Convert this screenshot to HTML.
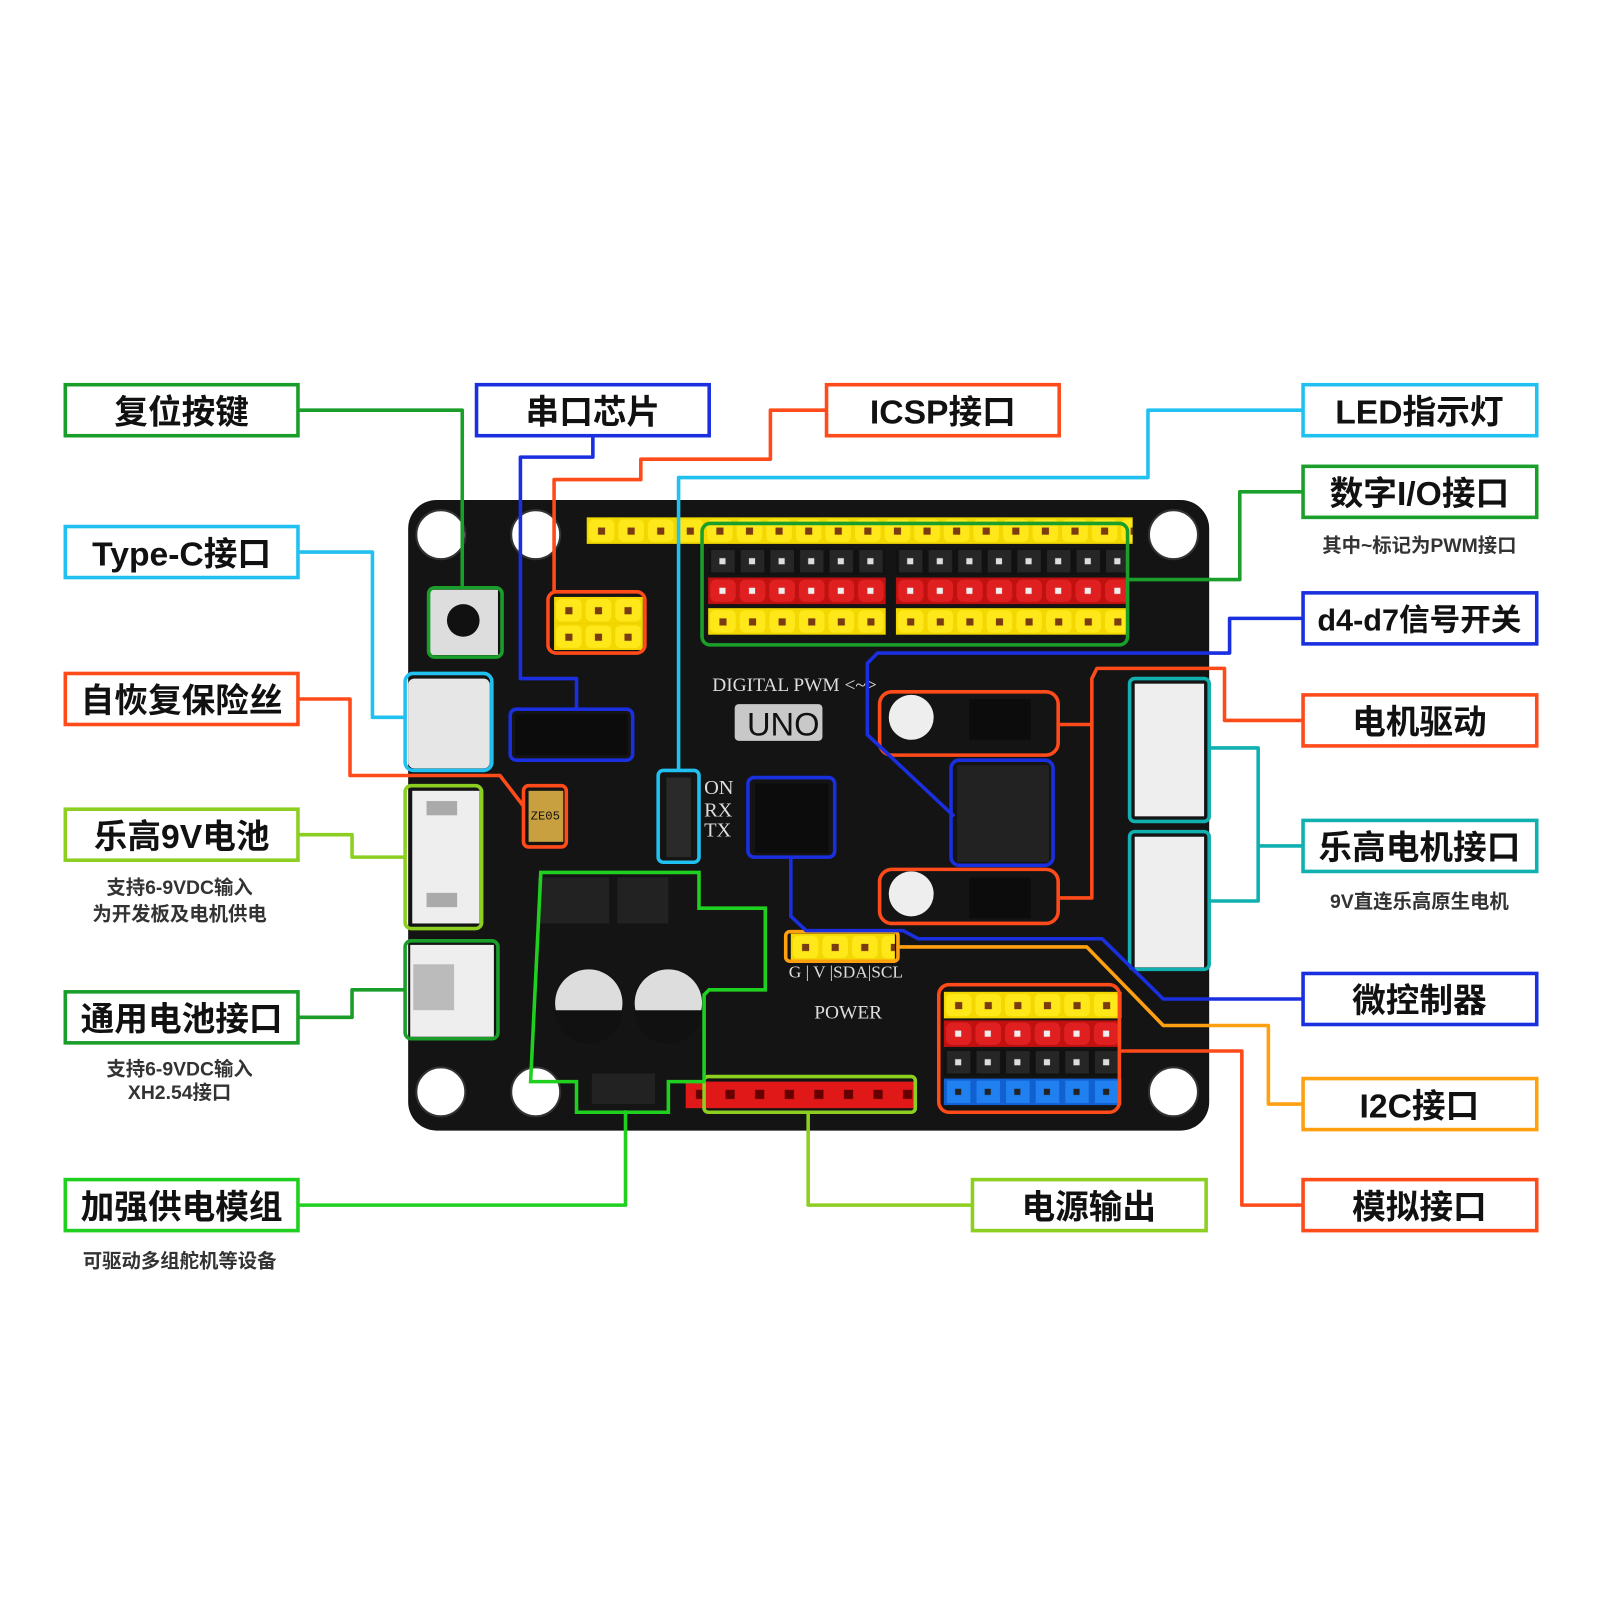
<!DOCTYPE html>
<html><head><meta charset="utf-8"><style>
html,body{margin:0;padding:0;background:#fff}
svg{display:block}
.lb{font-family:"Liberation Sans","Noto Sans CJK SC",sans-serif;font-weight:bold;font-size:33px;fill:#111}
.sb{font-family:"Liberation Sans","Noto Sans CJK SC",sans-serif;font-weight:bold;font-size:19px;fill:#333}
.bd{font-family:"Liberation Serif","DejaVu Serif",serif;fill:#ddd}
</style></head><body>
<svg width="1600" height="1600" viewBox="0 0 1568 1568" xmlns="http://www.w3.org/2000/svg">
<defs>
<pattern id="py" x="0" y="0" width="29" height="26" patternUnits="userSpaceOnUse"><rect width="29" height="26" fill="#f2d800"/><rect x="2" y="2" width="25" height="22" rx="5" fill="#ffe81a"/><rect x="11" y="10" width="7" height="7" fill="#7a3b10"/></pattern>
<pattern id="pr" x="0" y="0" width="29" height="26" patternUnits="userSpaceOnUse"><rect width="29" height="26" fill="#c01010"/><rect x="2" y="2" width="25" height="22" rx="6" fill="#e02020"/><rect x="11" y="10" width="6" height="6" fill="#eee"/></pattern>
<pattern id="pk" x="0" y="0" width="29" height="26" patternUnits="userSpaceOnUse"><rect width="29" height="26" fill="#111"/><rect x="3" y="2" width="23" height="22" fill="#262626"/><rect x="11" y="10" width="6" height="6" fill="#ddd"/></pattern>
<pattern id="pb" x="0" y="0" width="29" height="26" patternUnits="userSpaceOnUse"><rect width="29" height="26" fill="#1060d0"/><rect x="3" y="2" width="23" height="22" fill="#2080f0"/><rect x="11" y="10" width="6" height="6" fill="#222"/></pattern>
<pattern id="pw" x="0" y="0" width="29" height="26" patternUnits="userSpaceOnUse"><rect width="29" height="26" fill="#e01818"/><rect x="10" y="8" width="9" height="9" fill="#600"/></pattern>
</defs>
<rect x="400" y="490" width="785" height="618" rx="28" fill="#141414"/>
<g fill="#fff" stroke="#333" stroke-width="2">
<circle cx="432" cy="524" r="24"/><circle cx="525" cy="524" r="24"/><circle cx="1150" cy="524" r="24"/>
<circle cx="432" cy="1070" r="24"/><circle cx="525" cy="1070" r="24"/><circle cx="1150" cy="1070" r="24"/>
</g>
<g transform="translate(575,507)"><rect width="535" height="26" fill="url(#py)"/></g>
<g transform="translate(694,537)"><rect width="174" height="26" fill="url(#pk)"/></g><g transform="translate(878,537)"><rect width="226" height="26" fill="url(#pk)"/></g>
<g transform="translate(694,566)"><rect width="174" height="26" fill="url(#pr)"/></g><g transform="translate(878,566)"><rect width="226" height="26" fill="url(#pr)"/></g>
<g transform="translate(694,596)"><rect width="174" height="26" fill="url(#py)"/></g><g transform="translate(878,596)"><rect width="226" height="26" fill="url(#py)"/></g>
<g transform="translate(543,585)"><rect width="87" height="26" fill="url(#py)"/></g>
<g transform="translate(543,611)"><rect width="87" height="26" fill="url(#py)"/></g>
<g transform="translate(925,972)"><rect width="174" height="26" fill="url(#py)"/></g>
<g transform="translate(925,1000)"><rect width="174" height="26" fill="url(#pr)"/></g>
<g transform="translate(925,1028)"><rect width="174" height="26" fill="url(#pk)"/></g>
<g transform="translate(925,1057)"><rect width="174" height="26" fill="url(#pb)"/></g>
<g transform="translate(672,1060)"><rect width="225" height="26" fill="url(#pw)"/></g>
<g transform="translate(775,915)"><rect width="102" height="26" fill="url(#py)"/></g>
<rect x="420" y="578" width="68" height="64" fill="#ddd"/><circle cx="454" cy="608" r="16" fill="#111"/>
<rect x="400" y="665" width="80" height="88" rx="6" fill="#e6e6e6"/>
<rect x="404" y="775" width="66" height="130" fill="#eee"/><rect x="418" y="785" width="30" height="14" fill="#aaa"/><rect x="418" y="875" width="30" height="14" fill="#aaa"/>
<rect x="402" y="926" width="82" height="90" fill="#eee"/><rect x="405" y="945" width="40" height="45" fill="#bbb"/>
<rect x="1112" y="670" width="68" height="130" fill="#eee"/><rect x="1112" y="820" width="68" height="128" fill="#eee"/>
<rect x="505" y="700" width="110" height="40" fill="#0c0c0c"/>
<rect x="518" y="775" width="34" height="50" fill="#c8a040"/><text x="520" y="803" font-family="Liberation Mono" font-size="12" fill="#111">ZE05</text>
<rect x="740" y="768" width="72" height="68" fill="#0c0c0c"/>
<rect x="720" y="690" width="86" height="36" rx="4" fill="#c8c8c8"/><text x="732" y="721" font-family="Liberation Sans" font-size="32" fill="#111">UNO</text>
<rect x="938" y="750" width="90" height="95" fill="#222"/>
<circle cx="893" cy="703" r="22" fill="#eee"/><circle cx="893" cy="876" r="22" fill="#eee"/>
<rect x="950" y="685" width="60" height="40" fill="#0c0c0c"/><rect x="950" y="860" width="60" height="40" fill="#0c0c0c"/>
<rect x="527" y="860" width="70" height="45" fill="#222"/><rect x="605" y="860" width="50" height="45" fill="#222"/>
<circle cx="577" cy="983" r="33" fill="#ddd"/><circle cx="655" cy="983" r="33" fill="#ddd"/>
<path d="M544 990 a33 33 0 0 0 66 0z M622 990 a33 33 0 0 0 66 0z" fill="#111"/>
<rect x="580" y="1052" width="62" height="30" fill="#222"/>
<rect x="653" y="762" width="24" height="78" fill="#2a2a2a"/>
<text class="bd" x="698" y="677" font-size="19">DIGITAL PWM &lt;~&gt;</text>
<text class="bd" x="690" y="778" font-size="20">ON</text><text class="bd" x="690" y="800" font-size="20">RX</text><text class="bd" x="690" y="820" font-size="20">TX</text>
<text class="bd" x="798" y="998" font-size="19">POWER</text>
<text class="bd" x="773" y="958" font-size="17">G | V |SDA|SCL</text>
<g fill="none" stroke-width="3.5">
<rect x="420" y="576" width="72" height="68" rx="6" stroke="#1a9e2a"/>
<rect x="397" y="660" width="85" height="95" rx="8" stroke="#20c0f0"/>
<rect x="500" y="695" width="120" height="50" rx="6" stroke="#1a2fe0"/>
<rect x="537" y="580" width="95" height="60" rx="8" stroke="#ff4a1a"/>
<rect x="688" y="513" width="417" height="119" rx="8" stroke="#1aa02a"/>
<rect x="645" y="755" width="40" height="90" rx="5" stroke="#20c0f0"/>
<rect x="513" y="770" width="42" height="60" rx="5" stroke="#ff4a1a"/>
<rect x="397" y="770" width="75" height="140" rx="6" stroke="#8ccf20"/>
<rect x="397" y="922" width="91" height="96" rx="6" stroke="#1a9e2a"/>
<rect x="733" y="762" width="85" height="78" rx="6" stroke="#1a2fe0"/>
<rect x="932" y="745" width="100" height="103" rx="8" stroke="#1a2fe0"/>
<rect x="862" y="678" width="175" height="62" rx="12" stroke="#ff4a1a"/>
<rect x="862" y="852" width="175" height="53" rx="12" stroke="#ff4a1a"/>
<rect x="1107" y="665" width="78" height="140" rx="5" stroke="#10b0b0"/>
<rect x="1107" y="815" width="78" height="135" rx="5" stroke="#10b0b0"/>
<rect x="770" y="913" width="110" height="29" rx="4" stroke="#ffa010"/>
<rect x="920" y="965" width="177" height="125" rx="10" stroke="#ff4a1a"/>
<rect x="690" y="1055" width="207" height="35" rx="4" stroke="#8ccf20"/>
<path d="M530 855 h155 v35 h65 v80 h-55 l-5 5 v85 h-35 v30 h-90 v-30 h-45 z" stroke="#20d020"/>
</g>
<g fill="none" stroke-width="3.5" stroke-linejoin="round">
<path d="M292 402 H453 V576" stroke="#1a9e2a"/>
<path d="M581 427 V448 H510 V665 H565 V695" stroke="#1a2fe0"/>
<path d="M810 402 H755 V450 H628 V470 H543 V580" stroke="#ff4a1a"/>
<path d="M1277 402 H1125 V468 H665 V755" stroke="#20c0f0"/>
<path d="M292 541 H365 V703 H397" stroke="#20c0f0"/>
<path d="M1277 482 H1215 V568 H1105" stroke="#1aa02a"/>
<path d="M1277 606 H1205 V640 H860 L850 650 V720 L935 800" stroke="#1a2fe0"/>
<path d="M292 685 H343 V760 H490 L513 790" stroke="#ff4a1a"/>
<path d="M1277 706 H1200 V655 H1075 L1070 665 V880 H1037 M1070 710 H1037" stroke="#ff4a1a"/>
<path d="M292 818 H345 V840 H397" stroke="#8ccf20"/>
<path d="M1277 829 H1233 V733 H1185 M1233 829 V883 H1185" stroke="#10b0b0"/>
<path d="M1277 979 H1140 L1080 920 H900 L885 912 H790 L775 898 V840" stroke="#1a2fe0"/>
<path d="M292 997 H345 V970 H397" stroke="#1a9e2a"/>
<path d="M880 928 H1065 L1140 1005 H1243 V1082 H1277" stroke="#ffa010"/>
<path d="M292 1181 H613 V1088" stroke="#20d020"/>
<path d="M953 1181 H792 V1090" stroke="#8ccf20"/>
<path d="M1277 1181 H1217 V1030 H1097" stroke="#ff4a1a"/>
</g>
<g fill="#fff" stroke-width="3.5">
<rect x="64" y="377" width="228" height="50" stroke="#1a9e2a"/>
<rect x="467" y="377" width="228" height="50" stroke="#1a2fe0"/>
<rect x="810" y="377" width="228" height="50" stroke="#ff4a1a"/>
<rect x="1277" y="377" width="229" height="50" stroke="#20c0f0"/>
<rect x="64" y="516" width="228" height="50" stroke="#20c0f0"/>
<rect x="1277" y="457" width="229" height="50" stroke="#1aa02a"/>
<rect x="1277" y="581" width="229" height="50" stroke="#1a2fe0"/>
<rect x="64" y="660" width="228" height="50" stroke="#ff4a1a"/>
<rect x="1277" y="681" width="229" height="50" stroke="#ff4a1a"/>
<rect x="64" y="793" width="228" height="50" stroke="#8ccf20"/>
<rect x="1277" y="804" width="229" height="50" stroke="#10b0b0"/>
<rect x="1277" y="954" width="229" height="50" stroke="#1a2fe0"/>
<rect x="64" y="972" width="228" height="50" stroke="#1a9e2a"/>
<rect x="1277" y="1057" width="229" height="50" stroke="#ffa010"/>
<rect x="64" y="1156" width="228" height="50" stroke="#20d020"/>
<rect x="953" y="1156" width="229" height="50" stroke="#8ccf20"/>
<rect x="1277" y="1156" width="229" height="50" stroke="#ff4a1a"/>
</g>
<g class="lb" text-anchor="middle">
<text x="178" y="415">复位按键</text>
<text x="581" y="415">串口芯片</text>
<text x="924" y="415">ICSP接口</text>
<text x="1391" y="415">LED指示灯</text>
<text x="178" y="554">Type-C接口</text>
<text x="1391" y="495">数字I/O接口</text>
<text x="1391" y="618" font-size="30">d4-d7信号开关</text>
<text x="178" y="698">自恢复保险丝</text>
<text x="1391" y="719">电机驱动</text>
<text x="178" y="831">乐高9V电池</text>
<text x="1391" y="842">乐高电机接口</text>
<text x="1391" y="992">微控制器</text>
<text x="178" y="1010">通用电池接口</text>
<text x="1391" y="1095">I2C接口</text>
<text x="178" y="1194">加强供电模组</text>
<text x="1067" y="1194">电源输出</text>
<text x="1391" y="1194">模拟接口</text>
</g>
<g class="sb" text-anchor="middle">
<text x="1391" y="541">其中~标记为PWM接口</text>
<text x="176" y="876">支持6-9VDC输入</text>
<text x="176" y="902">为开发板及电机供电</text>
<text x="1391" y="890">9V直连乐高原生电机</text>
<text x="176" y="1054">支持6-9VDC输入</text>
<text x="176" y="1077">XH2.54接口</text>
<text x="176" y="1242">可驱动多组舵机等设备</text>
</g>
</svg>
</body></html>
